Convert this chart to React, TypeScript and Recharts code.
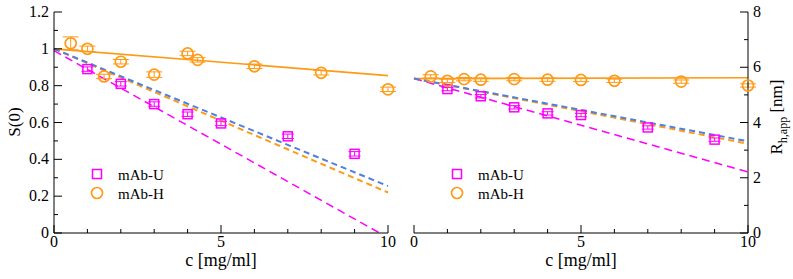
import React from 'react';
import {
  ComposedChart,
  Scatter,
  Line,
  XAxis,
  YAxis,
  ErrorBar
} from 'recharts';

// S(0) panel
const sU = [
  { x: 1, y: 0.89, e: 0.012 },
  { x: 2, y: 0.81, e: 0.012 },
  { x: 3, y: 0.70, e: 0.012 },
  { x: 4, y: 0.645, e: 0.012 },
  { x: 5, y: 0.595, e: 0.012 },
  { x: 7, y: 0.525, e: 0.012 },
  { x: 9, y: 0.43, e: 0.012 }
];
const sH = [
  { x: 0.5, y: 1.03, e: 0.035 },
  { x: 1, y: 1.0, e: 0.015 },
  { x: 1.5, y: 0.85, e: 0.012 },
  { x: 2, y: 0.93, e: 0.012 },
  { x: 3, y: 0.86, e: 0.015 },
  { x: 4, y: 0.975, e: 0.012 },
  { x: 4.3, y: 0.94, e: 0.012 },
  { x: 6, y: 0.905, e: 0.012 },
  { x: 8, y: 0.87, e: 0.012 },
  { x: 10, y: 0.78, e: 0.012 }
];
const sFitH = [{ x: 0, y: 1.0 }, { x: 10, y: 0.855 }];
const sFitBlue = [{ x: 0, y: 1.0 }, { x: 10, y: 0.255 }];
const sFitOrange = [{ x: 0, y: 1.0 }, { x: 10, y: 0.22 }];
const sFitU = [{ x: 0, y: 0.99 }, { x: 9.75, y: 0 }];

// R_h,app panel
const rU = [
  { x: 1, y: 5.21, e: 0.06 },
  { x: 2, y: 4.95, e: 0.06 },
  { x: 3, y: 4.55, e: 0.06 },
  { x: 4, y: 4.33, e: 0.06 },
  { x: 5, y: 4.27, e: 0.06 },
  { x: 7, y: 3.82, e: 0.06 },
  { x: 9, y: 3.38, e: 0.06 }
];
const rH = [
  { x: 0.5, y: 5.67, e: 0.06 },
  { x: 1, y: 5.51, e: 0.06 },
  { x: 1.5, y: 5.57, e: 0.06 },
  { x: 2, y: 5.55, e: 0.06 },
  { x: 3, y: 5.57, e: 0.06 },
  { x: 4, y: 5.55, e: 0.06 },
  { x: 5, y: 5.54, e: 0.06 },
  { x: 6, y: 5.51, e: 0.06 },
  { x: 8, y: 5.48, e: 0.06 },
  { x: 10, y: 5.34, e: 0.06 }
];
const rFitH = [{ x: 0, y: 5.59 }, { x: 10, y: 5.62 }];
const rFitBlue = [{ x: 0, y: 5.59 }, { x: 10, y: 3.32 }];
const rFitOrange = [{ x: 0, y: 5.59 }, { x: 10, y: 3.23 }];
const rFitU = [{ x: 0, y: 5.59 }, { x: 10, y: 2.21 }];

const xTicks = [0, 1, 2, 3, 4, 5, 6, 7, 8, 9, 10];
const xLabels = [0, 5, 10];
const sTicks = [0, 0.1, 0.2, 0.3, 0.4, 0.5, 0.6, 0.7, 0.8, 0.9, 1, 1.1, 1.2];
const rTicks = [0, 1, 2, 3, 4, 5, 6, 7, 8];

const MAGENTA = '#ff00ff';
const ORANGE = '#ff9a16';
const BLUE = '#4f80dd';
const FONT = '"Liberation Serif", "DejaVu Serif", serif';

const XTick = (props: any) => {
  const { x, y, payload, top } = props;
  const major = xLabels.includes(payload.value);
  const len = major ? 8 : 4;
  return (
    <g>
      <line x1={x} x2={x} y1={y} y2={top ? y + len : y - len} stroke="#000" />
      {!top && major && (
        <text x={x} y={y + 14} textAnchor="middle" fontSize={16} fontFamily={FONT} fill="#000">
          {payload.value}
        </text>
      )}
    </g>
  );
};

const YTick = (props: any) => {
  const { x, y, payload, side, showLabel, step } = props;
  const v = payload.value;
  const major = Math.round(v / step) % 2 === 0;
  const len = major ? 8 : 4;
  const dir = side === 'left' ? 1 : -1;
  return (
    <g>
      <line x1={x} x2={x + dir * len} y1={y} y2={y} stroke="#000" />
      {showLabel && major && (
        <text
          x={side === 'left' ? x - 5 : x + 5}
          y={y + 5}
          textAnchor={side === 'left' ? 'end' : 'start'}
          fontSize={16}
          fontFamily={FONT}
          fill="#000"
        >
          {String(Math.round(v * 10) / 10)}
        </text>
      )}
    </g>
  );
};

const square = (color: string) => (p: any) => (
  <rect x={p.cx - 4.5} y={p.cy - 4.5} width={9} height={9} fill="none" stroke={color} strokeWidth={1.5} />
);
const circle = (color: string) => (p: any) => (
  <circle cx={p.cx} cy={p.cy} r={5.5} fill="none" stroke={color} strokeWidth={1.7} />
);

function Panel({
  width, margin, ticks, domain, step, labelSide, U, H, fitH, fitB, fitO, fitU
}: any) {
  return (
    <ComposedChart width={width} height={279} margin={margin}>
      <XAxis
        xAxisId="b"
        type="number"
        dataKey="x"
        domain={[0, 10]}
        ticks={xTicks}
        interval={0}
        height={46}
        tickSize={0}
        tickMargin={0}
        axisLine={{ stroke: '#000' }}
        tick={<XTick />}
      />
      <XAxis
        xAxisId="t"
        orientation="top"
        type="number"
        dataKey="x"
        domain={[0, 10]}
        ticks={xTicks}
        interval={0}
        height={0}
        tickSize={0}
        tickMargin={0}
        axisLine={{ stroke: '#000' }}
        tick={<XTick top />}
      />
      <YAxis
        yAxisId="l"
        type="number"
        domain={domain}
        ticks={ticks}
        interval={0}
        width={labelSide === 'left' ? 54 : 0}
        tickSize={0}
        tickMargin={0}
        axisLine={{ stroke: '#000' }}
        tick={<YTick side="left" step={step} showLabel={labelSide === 'left'} />}
      />
      <YAxis
        yAxisId="r"
        orientation="right"
        type="number"
        domain={domain}
        ticks={ticks}
        interval={0}
        width={labelSide === 'right' ? 45 : 0}
        tickSize={0}
        tickMargin={0}
        axisLine={{ stroke: '#000' }}
        tick={<YTick side="right" step={step} showLabel={labelSide === 'right'} />}
      />
      {/* solid fit attached to the mirror axes (same domains) so they get ticks */}
      <Line xAxisId="t" yAxisId="r" data={fitH} dataKey="y" type="linear" stroke={ORANGE} strokeWidth={1.7} dot={false} isAnimationActive={false} />
      <Line xAxisId="b" yAxisId="l" data={fitU} dataKey="y" type="linear" stroke={MAGENTA} strokeWidth={1.5} strokeDasharray="8 5" dot={false} isAnimationActive={false} />
      <Line xAxisId="b" yAxisId="l" data={fitO} dataKey="y" type="linear" stroke={ORANGE} strokeWidth={2} strokeDasharray="6 4" dot={false} isAnimationActive={false} />
      <Line xAxisId="b" yAxisId="l" data={fitB} dataKey="y" type="linear" stroke={BLUE} strokeWidth={2} strokeDasharray="6 4" dot={false} isAnimationActive={false} />
      <Scatter xAxisId="b" yAxisId="l" data={U} dataKey="y" shape={square(MAGENTA)} isAnimationActive={false}>
        <ErrorBar dataKey="e" direction="y" width={6} stroke={MAGENTA} strokeWidth={1} />
      </Scatter>
      <Scatter xAxisId="b" yAxisId="l" data={H} dataKey="y" shape={circle(ORANGE)} isAnimationActive={false}>
        <ErrorBar dataKey="e" direction="y" width={8} stroke={ORANGE} strokeWidth={1} />
      </Scatter>
    </ComposedChart>
  );
}

const LegendBox = ({ left }: { left: number }) => (
  <svg style={{ position: 'absolute', left: 0, top: 0 }} width={793} height={279} pointerEvents="none">
    <rect x={left - 4.5} y={169.5} width={9} height={9} fill="none" stroke={MAGENTA} strokeWidth={1.5} />
    <circle cx={left} cy={193} r={5.5} fill="none" stroke={ORANGE} strokeWidth={1.7} />
    <text x={left + 21} y={180} fontSize={15} fontFamily={FONT}>mAb-U</text>
    <text x={left + 21} y={199} fontSize={15} fontFamily={FONT}>mAb-H</text>
  </svg>
);

export default function App() {
  return (
    <div style={{ position: 'relative', width: 793, height: 279, background: '#fff' }}>
      <style>{'body{margin:0}'}</style>
      <div style={{ position: 'absolute', left: 0, top: 0 }}>
        <Panel
          width={400}
          margin={{ top: 12, right: 12, bottom: 0, left: 0 }}
          ticks={sTicks}
          domain={[0, 1.2]}
          step={0.1}
          labelSide="left"
          U={sU}
          H={sH}
          fitH={sFitH}
          fitB={sFitBlue}
          fitO={sFitOrange}
          fitU={sFitU}
        />
      </div>
      <div style={{ position: 'absolute', left: 400, top: 0 }}>
        <Panel
          width={393}
          margin={{ top: 12, right: 0, bottom: 0, left: 14 }}
          ticks={rTicks}
          domain={[0, 8]}
          step={1}
          labelSide="right"
          U={rU}
          H={rH}
          fitH={rFitH}
          fitB={rFitBlue}
          fitO={rFitOrange}
          fitU={rFitU}
        />
      </div>
      <LegendBox left={97} />
      <LegendBox left={457} />
      <svg style={{ position: 'absolute', left: 0, top: 0 }} width={793} height={279} pointerEvents="none">
        <text x={221} y={266} textAnchor="middle" fontSize={18} fontFamily={FONT}>c [mg/ml]</text>
        <text x={581} y={266} textAnchor="middle" fontSize={18} fontFamily={FONT}>c [mg/ml]</text>
        <text transform="translate(20,122) rotate(-90)" textAnchor="middle" fontSize={17} fontFamily={FONT}>S(0)</text>
        <text transform="translate(782,117) rotate(-90)" textAnchor="middle" fontSize={17} fontFamily={FONT}>
          R<tspan fontSize={12} dy={5}>h,app</tspan>
          <tspan dy={-5}> [nm]</tspan>
        </text>
      </svg>
    </div>
  );
}
